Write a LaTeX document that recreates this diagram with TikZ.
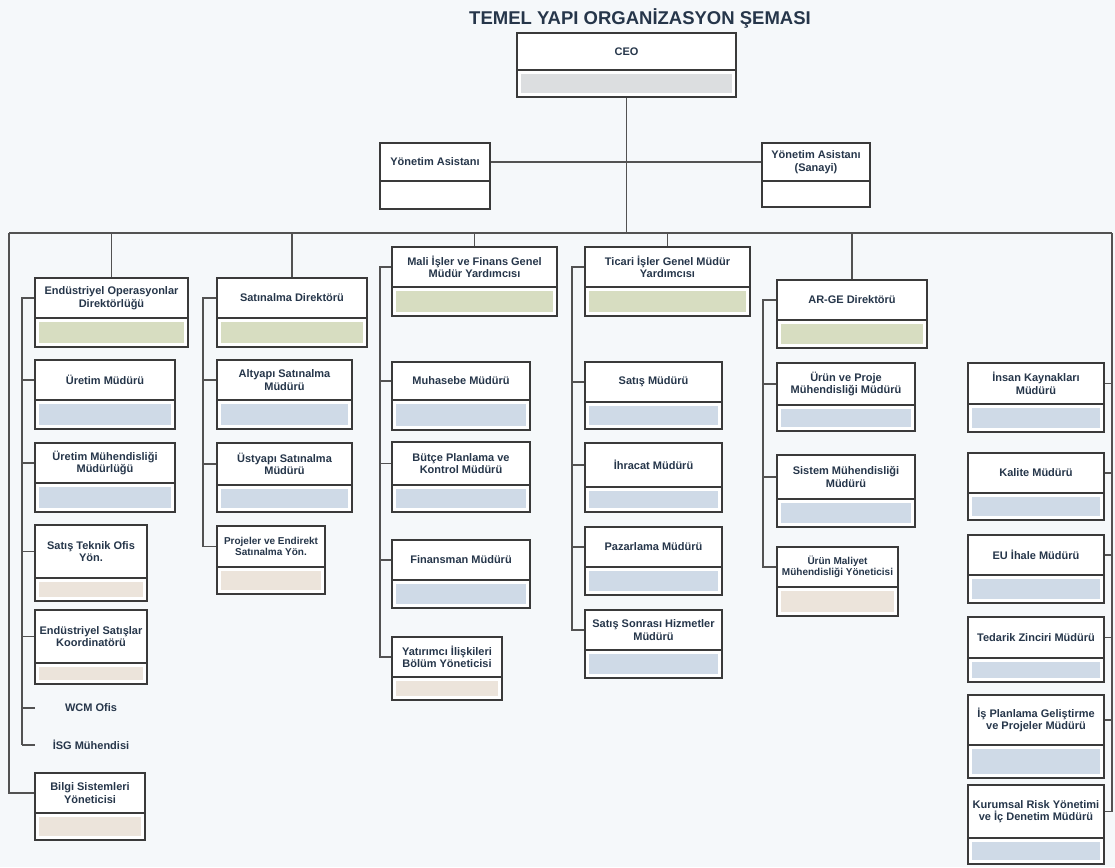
\documentclass[tikz,border=0pt]{standalone}
\usepackage{fontspec}
\setmainfont{Liberation Sans}
\usepackage{tikz}
\usetikzlibrary{positioning,calc,backgrounds}

\definecolor{inkC}{HTML}{26364A}
\definecolor{lineC}{HTML}{3A3A3A}
\definecolor{linkC}{HTML}{525252}
\definecolor{greenF}{HTML}{D7DDC1}
\definecolor{blueF}{HTML}{CFDAE7}
\definecolor{beigeF}{HTML}{ECE4DB}
\definecolor{grayF}{HTML}{DCDEE0}
\definecolor{paperC}{HTML}{F5F8FA}

\begin{document}
\begin{tikzpicture}[
    x=1pt, y=-1pt,
    box/.style={rectangle, draw=lineC, line width=2pt, fill=white, text=inkC, font=\bfseries\fontsize{11}{12.5}\selectfont, align=center, inner sep=1pt, outer sep=0pt, minimum width=#1, minimum height=40pt},
    small/.style={font=\bfseries\fontsize{10}{11.5}\selectfont},
    strip/.style={draw=lineC, line width=2pt, fill=white},
    note/.style={text=inkC, font=\bfseries\fontsize{11}{12.5}\selectfont, inner sep=0pt, outer sep=0pt, minimum width=112pt},
    link/.style={draw=linkC, line width=1.3pt}
]
    \useasboundingbox (0,0) rectangle (1115,867);

    \node[font=\bfseries\fontsize{18.5}{21}\selectfont, text=inkC] (title) at (640,18) {TEMEL YAPI ORGANİZASYON ŞEMASI};

    % top
    \node[box=219pt, minimum height=37pt] (ceo) at (626.5,51.5) {CEO};
    \node[box=110pt, minimum height=38pt] (ya1) at (435,162) {Yönetim Asistanı};
    \node[box=108pt, minimum height=38pt] (ya2) at (816,162) {Yönetim Asistanı\\(Sanayi)};

    \coordinate (busL) at (9,233);
    \coordinate (busR) at (1112,233);

    % endustriyel operasyonlar
    \node[box=153pt] (endop) at (111.5,298) {Endüstriyel Operasyonlar\\Direktörlüğü};
    \node[box=140pt] (uretim) at (105,380) {Üretim Müdürü};
    \node[box=140pt] (uretmuh) at (105,463) {Üretim Mühendisliği\\Müdürlüğü};
    \node[box=112pt, minimum height=53pt] (satistek) at (91,551.5) {Satış Teknik Ofis\\Yön.};
    \node[box=112pt, minimum height=53pt] (endsat) at (91,636.5) {Endüstriyel Satışlar\\Koordinatörü};
    \node[note] (wcm) at (91,708) {WCM Ofis};
    \node[note] (ig) at (91,745) {İSG Mühendisi};
    \node[box=110pt] (bilgi) at (90,793) {Bilgi Sistemleri\\Yöneticisi};

    % satinalma
    \node[box=150pt] (satin) at (292,298) {Satınalma Direktörü};
    \node[box=135pt] (altyapi) at (284.5,380) {Altyapı Satınalma\\Müdürü};
    \node[box=135pt, minimum height=42pt] (ustyapi) at (284.5,464) {Üstyapı Satınalma\\Müdürü};
    \node[box=108pt, small, minimum height=41pt] (projeler) at (271,546.5) {Projeler ve Endirekt\\Satınalma Yön.};

    % mali isler
    \node[box=165pt] (mali) at (474.5,267) {Mali İşler ve Finans Genel\\Müdür Yardımcısı};
    \node[box=138pt, minimum height=38pt] (muhasebe) at (461,381) {Muhasebe Müdürü};
    \node[box=138pt, minimum height=43pt] (butce) at (461,463.5) {Bütçe Planlama ve\\Kontrol Müdürü};
    \node[box=138pt] (finans) at (461,560) {Finansman Müdürü};
    \node[box=110pt] (yatirim) at (447,657) {Yatırımcı İlişkileri\\Bölüm Yöneticisi};

    % ticari isler
    \node[box=165pt] (ticari) at (667.5,267) {Ticari İşler Genel Müdür\\Yardımcısı};
    \node[box=137pt] (satis) at (653.5,382) {Satış Müdürü};
    \node[box=137pt, minimum height=44pt] (ihracat) at (653.5,465) {İhracat Müdürü};
    \node[box=137pt] (pazarlama) at (653.5,547) {Pazarlama Müdürü};
    \node[box=137pt] (sshm) at (653.5,630) {Satış Sonrası Hizmetler\\Müdürü};

    % ar-ge
    \node[box=150pt] (arge) at (852,300) {AR-GE Direktörü};
    \node[box=138pt, minimum height=42pt] (urunproje) at (846,384) {Ürün ve Proje\\Mühendisliği Müdürü};
    \node[box=138pt, minimum height=44pt] (sistem) at (846,477) {Sistem Mühendisliği\\Müdürü};
    \node[box=121pt, small] (maliyet) at (837.5,567) {Ürün Maliyet\\Mühendisliği Yöneticisi};

    % sag kolon
    \node[box=136pt, minimum height=41pt] (ik) at (1036,383.5) {İnsan Kaynakları\\Müdürü};
    \node[box=136pt] (kalite) at (1036,473) {Kalite Müdürü};
    \node[box=136pt] (euihale) at (1036,555) {EU İhale Müdürü};
    \node[box=136pt, minimum height=41pt] (tedarik) at (1036,637.5) {Tedarik Zinciri Müdürü};
    \node[box=136pt, minimum height=50pt] (isplan) at (1036,720) {İş Planlama Geliştirme\\ve Projeler Müdürü};
    \node[box=136pt, minimum height=53pt] (kurumsal) at (1036,811.5) {Kurumsal Risk Yönetimi\\ve İç Denetim Müdürü};

    % colour strips under the boxes
    \foreach \b/\c/\h in {ceo/grayF/27, ya1/white/28, ya2/white/26,
        endop/greenF/29, uretim/blueF/29, uretmuh/blueF/29, satistek/beigeF/23, endsat/beigeF/21, bilgi/beigeF/27,
        satin/greenF/29, altyapi/blueF/29, ustyapi/blueF/27, projeler/beigeF/27,
        mali/greenF/29, muhasebe/blueF/30, butce/blueF/27, finans/blueF/28, yatirim/beigeF/23,
        ticari/greenF/29, satis/blueF/27, ihracat/blueF/25, pazarlama/blueF/28, sshm/blueF/28,
        arge/greenF/28, urunproje/blueF/26, sistem/blueF/28, maliyet/beigeF/29,
        ik/blueF/28, kalite/blueF/27, euihale/blueF/28, tedarik/blueF/24, isplan/blueF/33, kurumsal/blueF/26} {
        \draw[strip] (\b.south west) rectangle ([yshift=-\h]\b.south east);
        \fill[\c] ([xshift=4pt,yshift=-4pt]\b.south west) rectangle ([xshift=-4pt,yshift={4-\h}]\b.south east);
    }

    \coordinate (sp1) at (22,0);
    \coordinate (sp2) at (203,0);
    \coordinate (sp3) at (380,0);
    \coordinate (sp4) at (572,0);
    \coordinate (sp5) at (763,0);

    \begin{scope}[on background layer]
        \fill[paperC] (0,0) rectangle (1115,867);

        \draw[link] (ceo.south) -- (ceo.south |- busL);
        \draw[link] (ya1.east) -- (ya2.west);
        \draw[link] (busL) -- (busR);
        \foreach \n in {endop,satin,mali,ticari,arge}
            \draw[link] (\n.north) -- (\n.north |- busL);

        \draw[link] (endop.west) -| (sp1 |- ig.west);
        \foreach \n in {uretim,uretmuh,satistek,endsat,wcm,ig}
            \draw[link] (\n.west -| sp1) -- (\n.west);
        \draw[link] (busL) |- (bilgi.west);

        \draw[link] (satin.west) -| (sp2 |- projeler.west) -- (projeler.west);
        \foreach \n in {altyapi,ustyapi}
            \draw[link] (\n.west -| sp2) -- (\n.west);

        \draw[link] (mali.west) -| (sp3 |- yatirim.west) -- (yatirim.west);
        \foreach \n in {muhasebe,butce,finans}
            \draw[link] (\n.west -| sp3) -- (\n.west);

        \draw[link] (ticari.west) -| (sp4 |- sshm.west) -- (sshm.west);
        \foreach \n in {satis,ihracat,pazarlama}
            \draw[link] (\n.west -| sp4) -- (\n.west);

        \draw[link] (arge.west) -| (sp5 |- maliyet.west) -- (maliyet.west);
        \foreach \n in {urunproje,sistem}
            \draw[link] (\n.west -| sp5) -- (\n.west);

        \draw[link] (busR) |- (kurumsal.east);
        \foreach \n in {ik,kalite,euihale,tedarik,isplan}
            \draw[link] (\n.east) -- (\n.east -| busR);
    \end{scope}
\end{tikzpicture}
\end{document}
